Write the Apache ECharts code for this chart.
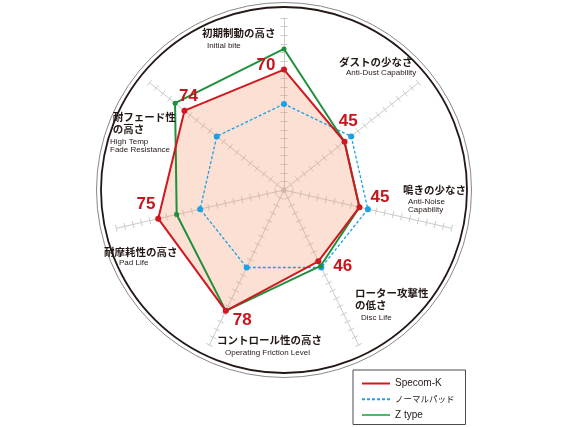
<!DOCTYPE html>
<html><head><meta charset="utf-8">
<script src="https://cdn.jsdelivr.net/npm/echarts@6/dist/echarts.min.js"></script>
<style>html,body{margin:0;padding:0;background:#fff}#c{width:569px;height:427px}</style>
</head><body><div id="c"></div>
<script>
// ---- data ----
const categoriesJa = ['初期制動の高さ','ダストの少なさ','鳴きの少なさ','ローター攻撃性\nの低さ','コントロール性の高さ','耐摩耗性の高さ','耐フェード性\nの高さ'];
const categoriesEn = ['Initial bite','Anti-Dust Capability','Anti-Noise\nCapability','Disc Life','Operating Friction Level','Pad Life','High Temp\nFade Resistance'];
const seriesNames = ['Specom-K','ノーマルパッド','Z type'];
const specomK = [70,45,45,46,78,75,74];
const normalPad = [50,50,50,50,50,50,50];
const zType = [82,45,45,49,78,64,81];
const axisMin = 0;
const axisMax = 100;

// ---- layout / style ----
const CX = 284, CY = 190, R = 172;
const jaPos = [[202,33.3],[339,61.7],[403,190.5],[355,293.3],[217,340],[104,251.7],[112.7,117.3]];
const enPos = [[207,46],[346,72.7],[408,201.7],[361,317.3],[225,352.3],[119,262.3],[110,141.7]];
const valueLabelOffsets = [[-18,-4.5],[3.7,-20.5],[20.5,-10],[24.5,5.5],[16.5,9.8],[-12.3,-14.5],[4,-14]];
const RED = '#cf1820', BLUE = '#1ba1e6', GREEN = '#1f8f3c', TXT = '#231815';
const colors = [RED, BLUE, GREEN];

// radar lays indicators counter-clockwise; reference is clockwise
const order = [0,6,5,4,3,2,1];
const toRadar = arr => order.map(i => arr[i]);
const indicators = order.map(i => ({ name: categoriesEn[i], min: axisMin, max: axisMax }));

const baseRadar = {
  center: [CX, CY], radius: R, startAngle: 90, indicator: indicators,
  splitNumber: 20, axisName: { show: false },
  splitLine: { show: false }, splitArea: { show: false },
  axisLabel: { show: false }
};
const axisGray = '#cbcbcb';

const graphics = [];
categoriesJa.forEach((t, i) => {
  graphics.push({ type: 'text', x: jaPos[i][0], y: jaPos[i][1] - 5.75, z: 100,
    style: { text: t, fill: TXT, font: 'bold 10.5px "Noto Sans CJK JP"', lineHeight: 11.5,
      align: 'left', verticalAlign: 'top', textAlign: 'left', textVerticalAlign: 'top' } });
  graphics.push({ type: 'text', x: enPos[i][0], y: enPos[i][1] - 4.1, z: 100,
    style: { text: categoriesEn[i], fill: TXT, font: 'normal 8px "Liberation Sans"', lineHeight: 8.2,
      align: 'left', verticalAlign: 'top', textAlign: 'left', textVerticalAlign: 'top' } });
});

const lineIcon = 'path://M0 0H28V2H0Z';
let dashPath = 'path://';
for (let x = 0; x < 28; x += 5) dashPath += 'M' + x + ' 0H' + (x + 3) + 'V2H' + x + 'Z';

const radarSeries = [specomK, normalPad, zType].map((vals, k) => ({
  type: 'radar', radarIndex: 0, name: seriesNames[k], z: [5, 3, 4][k],
  color: colors[k],
  itemStyle: { color: colors[k] },
  lineStyle: { color: colors[k], width: k === 1 ? 1.3 : 2, type: k === 1 ? [3, 2] : 'solid' },
  symbol: 'circle', symbolSize: k === 2 ? 5 : 6,
  data: [{ name: seriesNames[k], value: toRadar(vals), itemStyle: { color: colors[k] },
    lineStyle: { color: colors[k], width: k === 1 ? 1.3 : 2, type: k === 1 ? [3, 2] : 'solid' } }]
}));

// one label-only radar series per axis: only the target vertex carries the value
const labelSeries = specomK.map((v, i) => ({
  type: 'radar', radarIndex: 0, silent: true, z: 6,
  symbol: 'circle', symbolSize: 0.01,
  itemStyle: { color: 'rgba(0,0,0,0)' },
  lineStyle: { opacity: 0, width: 0 },
  data: [{ name: 'label' + i, value: toRadar(specomK.map((w, j) => j === i ? w : 0)) }],
  label: { show: true, position: 'inside', offset: valueLabelOffsets[i],
    formatter: p => (p.value ? String(p.value) : ''),
    color: '#c8141c', fontSize: 17, fontWeight: 'bold', fontFamily: '"Liberation Sans"' }
}));

const option = {
  animation: false,
  backgroundColor: '#fff',
  radar: [
    Object.assign({}, baseRadar, {
      axisLine: { show: true, lineStyle: { color: axisGray, width: 1 } },
      axisTick: { show: true, length: 3.5, lineStyle: { color: axisGray, width: 1 } }
    }),
    Object.assign({}, baseRadar, {
      axisLine: { show: false },
      axisTick: { show: true, length: -3.5, lineStyle: { color: axisGray, width: 1 } }
    }),
    Object.assign({}, baseRadar, {
      radius: 183, shape: 'circle', splitNumber: 1,
      axisLine: { show: false }, axisTick: { show: false },
      splitLine: { show: true, lineStyle: { color: '#231815', width: 1.8 } }
    }),
    Object.assign({}, baseRadar, {
      radius: 187.5, shape: 'circle', splitNumber: 1,
      axisLine: { show: false }, axisTick: { show: false },
      splitLine: { show: true, lineStyle: { color: '#6a6a6a', width: 0.8 } }
    })
  ],
  legend: {
    data: [
      { name: seriesNames[0], icon: lineIcon, itemStyle: { color: RED } },
      { name: seriesNames[1], icon: dashPath, itemStyle: { color: BLUE } },
      { name: seriesNames[2], icon: lineIcon, itemStyle: { color: '#4fb56a' } }
    ],
    orient: 'vertical', left: 353, top: 370,
    padding: [8.5, 11, 4.5, 9], itemWidth: 28, itemHeight: 10, itemGap: 6.5,
    borderColor: '#4a4a4a', borderWidth: 1, selectedMode: false,
    formatter: n => /[^\x00-\x7f]/.test(n) ? '{j|' + n + '}' : n,
    textStyle: { fontSize: 10, color: TXT, fontFamily: '"Liberation Sans"',
      rich: { j: { fontSize: 8.5, fontFamily: '"Noto Sans CJK JP"', color: TXT } } }
  },
  graphic: graphics,
  series: [
    { type: 'radar', radarIndex: 0, silent: true, z: 2, symbol: 'none',
      data: [{ name: 'fill', value: toRadar(specomK),
        lineStyle: { width: 0, opacity: 0 },
        areaStyle: { color: 'rgba(240,150,105,0.42)' }, itemStyle: { color: '#f3b090' } }] },
    { type: 'radar', radarIndex: 0, silent: true, z: 1, symbol: 'circle', symbolSize: 4,
      itemStyle: { color: '#c4c4c4' }, lineStyle: { opacity: 0, width: 0 },
      data: [{ name: 'center', value: toRadar(specomK.map(() => 0)) }] }
  ].concat(radarSeries, labelSeries)
};
const chart = echarts.init(document.getElementById('c'), null, { renderer: 'canvas' });
chart.setOption(option);
</script></body></html>
